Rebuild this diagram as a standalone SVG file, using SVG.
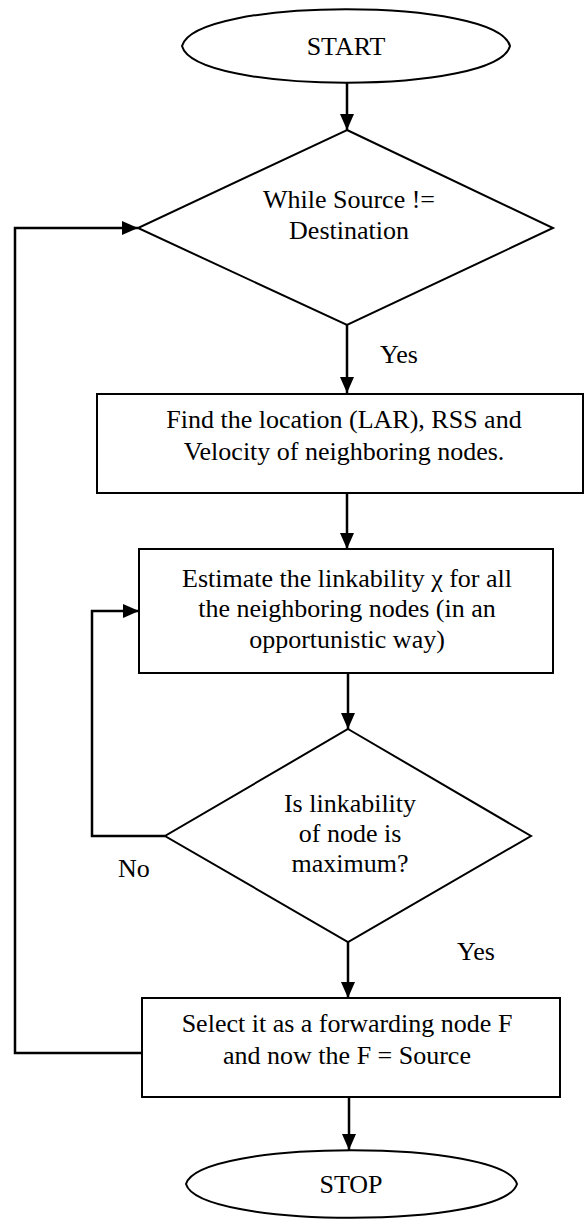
<svg xmlns="http://www.w3.org/2000/svg" width="585" height="1219" viewBox="0 0 585 1219">
<style>
.shape{fill:#fff;stroke:#000;stroke-width:2}
.conn{fill:none;stroke:#000;stroke-width:2.5}
text{font-family:"Liberation Serif","Times New Roman",serif;font-size:26px;fill:#000}
.c{text-anchor:middle}
</style>
<defs>
<marker id="arr" viewBox="0 0 16 14" refX="16" refY="7" markerWidth="16" markerHeight="14" markerUnits="userSpaceOnUse" orient="auto">
<path d="M0,0 L16,7 L0,14 Z" fill="#000"/>
</marker>
</defs>
<g id="connectors">
<line class="conn" x1="347" y1="83" x2="347" y2="130" marker-end="url(#arr)"/>
<line class="conn" x1="347" y1="325" x2="347" y2="393" marker-end="url(#arr)"/>
<line class="conn" x1="347" y1="493" x2="347" y2="549" marker-end="url(#arr)"/>
<line class="conn" x1="348" y1="673" x2="348" y2="729" marker-end="url(#arr)"/>
<line class="conn" x1="348" y1="942" x2="348" y2="998" marker-end="url(#arr)"/>
<line class="conn" x1="349" y1="1097" x2="349" y2="1150" marker-end="url(#arr)"/>
<polyline class="conn" points="142,1053 15,1053 15,228 138,228" marker-end="url(#arr)"/>
<polyline class="conn" points="165,836 92,836 92,611 139,611" marker-end="url(#arr)"/>
<text x="380" y="363">Yes</text>
<text x="118" y="877">No</text>
<text x="457" y="960">Yes</text>
</g>
<g id="start">
<path class="shape" d="M182,46 C195,-3 497,-3 510,46 C497,95 195,95 182,46 Z"/>
<text class="c" x="346" y="55">START</text>
</g>
<g id="while">
<polygon class="shape" points="347,130 553,228 347,325 138,228"/>
<text class="c" x="349" y="208">While Source !=</text>
<text class="c" x="349" y="239">Destination</text>
</g>
<g id="find">
<rect class="shape" x="97" y="394" width="486" height="99"/>
<text class="c" x="344" y="428">Find the location (LAR), RSS and</text>
<text class="c" x="344" y="460">Velocity of neighboring nodes.</text>
</g>
<g id="estimate">
<rect class="shape" x="139" y="549" width="414" height="124"/>
<text class="c" x="347" y="587">Estimate the linkability χ for all</text>
<text class="c" x="347" y="617">the neighboring nodes (in an</text>
<text class="c" x="347" y="648">opportunistic way)</text>
</g>
<g id="ismax">
<polygon class="shape" points="348,729 531,836 348,942 165,836"/>
<text class="c" x="350" y="812">Is linkability</text>
<text class="c" x="350" y="842">of node is</text>
<text class="c" x="350" y="872">maximum?</text>
</g>
<g id="select">
<rect class="shape" x="142" y="998" width="418" height="99"/>
<text class="c" x="347" y="1032">Select it as a forwarding node F</text>
<text class="c" x="347" y="1064">and now the F = Source</text>
</g>
<g id="stop">
<path class="shape" d="M186,1184 C199,1139 504,1139 517,1184 C504,1229 199,1229 186,1184 Z"/>
<text class="c" x="351" y="1193">STOP</text>
</g>
</svg>
